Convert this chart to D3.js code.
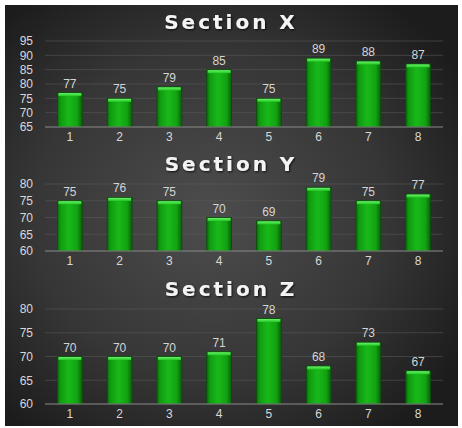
<!DOCTYPE html>
<html><head><meta charset="utf-8">
<script src="https://cdn.jsdelivr.net/npm/d3@7/dist/d3.min.js"></script>
<style>html,body{margin:0;padding:0;background:#fff;}svg{display:block;}</style>
</head><body>
<svg id="chart" width="462" height="428"></svg>
<script>
const categories = ["1","2","3","4","5","6","7","8"];
const sectionTitles = ["Section X","Section Y","Section Z"];
const sectionX = [77,75,79,85,75,89,88,87];
const sectionY = [75,76,75,70,69,79,75,77];
const sectionZ = [70,70,70,71,78,68,73,67];
const ticksX = [65,70,75,80,85,90,95];
const ticksY = [60,65,70,75,80];
const ticksZ = [60,65,70,75,80];

const panels = [
  {title: sectionTitles[0], values: sectionX, ticks: ticksX, y0: 127, y1: 41, titleY: 29},
  {title: sectionTitles[1], values: sectionY, ticks: ticksY, y0: 251, y1: 184, titleY: 171},
  {title: sectionTitles[2], values: sectionZ, ticks: ticksZ, y0: 404, y1: 309, titleY: 296}
];

const svg = d3.select("#chart");
const defs = svg.append("defs");
const bg = defs.append("radialGradient").attr("id","bg").attr("cx","45%").attr("cy","50%").attr("r","65%");
bg.append("stop").attr("offset","0%").attr("stop-color","#4d4d4d");
bg.append("stop").attr("offset","60%").attr("stop-color","#363636");
bg.append("stop").attr("offset","100%").attr("stop-color","#1c1c1c");
const bar = defs.append("linearGradient").attr("id","bar").attr("x1","0").attr("x2","1").attr("y1","0").attr("y2","0");
[["0%","#0a680a"],["12%","#109a10"],["45%","#19b919"],["80%","#12a212"],["100%","#0a5e0a"]].forEach(s=>bar.append("stop").attr("offset",s[0]).attr("stop-color",s[1]));
const cap = defs.append("linearGradient").attr("id","cap").attr("x1","0").attr("x2","0").attr("y1","0").attr("y2","1");
cap.append("stop").attr("offset","0%").attr("stop-color","#6cf06c");
cap.append("stop").attr("offset","100%").attr("stop-color","#22c822");
const sh = defs.append("filter").attr("id","sh").attr("x","-10%").attr("y","-30%").attr("width","120%").attr("height","160%");
sh.append("feDropShadow").attr("dx",1).attr("dy",1).attr("stdDeviation",0.8).attr("flood-color","#000").attr("flood-opacity",0.8);

svg.append("rect").attr("x",5).attr("y",5).attr("width",453).attr("height",421).attr("fill","url(#bg)");

const x = d3.scaleBand().domain(categories).range([45,443]).paddingInner(0.5).paddingOuter(0.25);

panels.forEach(p => {
  const y = d3.scaleLinear().domain([p.ticks[0], p.ticks[p.ticks.length-1]]).range([p.y0, p.y1]);
  const g = svg.append("g");
  g.selectAll("line.grid").data(p.ticks.slice(1)).join("line")
    .attr("x1",45).attr("x2",443).attr("y1",d=>y(d)).attr("y2",d=>y(d))
    .attr("stroke","#5a5a5a").attr("stroke-width",1).attr("opacity",0.55);
  const ya = g.append("g").attr("transform","translate(33,0)")
    .call(d3.axisLeft(y).tickValues(p.ticks).tickSize(0).tickPadding(0));
  ya.select(".domain").remove();
  ya.selectAll("text").attr("fill","#d8d8d8").attr("font-family","Liberation Sans, Arial, sans-serif").attr("font-size",12).attr("text-anchor","end");
  const data = p.values.map((v,i)=>({c:categories[i], v}));
  g.selectAll("rect.b").data(data).join("rect")
    .attr("x",d=>x(d.c)).attr("width",x.bandwidth())
    .attr("y",d=>y(d.v)).attr("height",d=>p.y0-y(d.v))
    .attr("fill","url(#bar)").attr("stroke","#0b4d0b").attr("stroke-width",0.8);
  g.selectAll("rect.c").data(data).join("rect")
    .attr("x",d=>x(d.c)+1).attr("width",x.bandwidth()-2)
    .attr("y",d=>y(d.v)+0.5).attr("height",3)
    .attr("fill","url(#cap)");
  g.selectAll("text.v").data(data).join("text")
    .attr("x",d=>x(d.c)+x.bandwidth()/2).attr("y",d=>y(d.v)-5)
    .attr("text-anchor","middle").attr("fill","#d4d4d4")
    .attr("font-family","Liberation Sans, Arial, sans-serif").attr("font-size",12)
    .text(d=>d.v);
  g.append("line").attr("x1",45).attr("x2",443).attr("y1",p.y0).attr("y2",p.y0)
    .attr("stroke","#8a8a8a").attr("stroke-width",1.2);
  const xa = g.append("g").attr("transform",`translate(0,${p.y0})`)
    .call(d3.axisBottom(x).tickSize(0).tickPadding(5));
  xa.select(".domain").remove();
  xa.selectAll("text").attr("fill","#d8d8d8").attr("font-family","Liberation Sans, Arial, sans-serif").attr("font-size",12);
  svg.append("text").attr("x",231).attr("y",p.titleY).attr("text-anchor","middle")
    .attr("fill","#f4f4f4").attr("font-family","DejaVu Sans, Verdana, sans-serif").attr("font-weight","bold")
    .attr("font-size",20).attr("letter-spacing",3).attr("filter","url(#sh)").text(p.title);
});
</script>
</body></html>
